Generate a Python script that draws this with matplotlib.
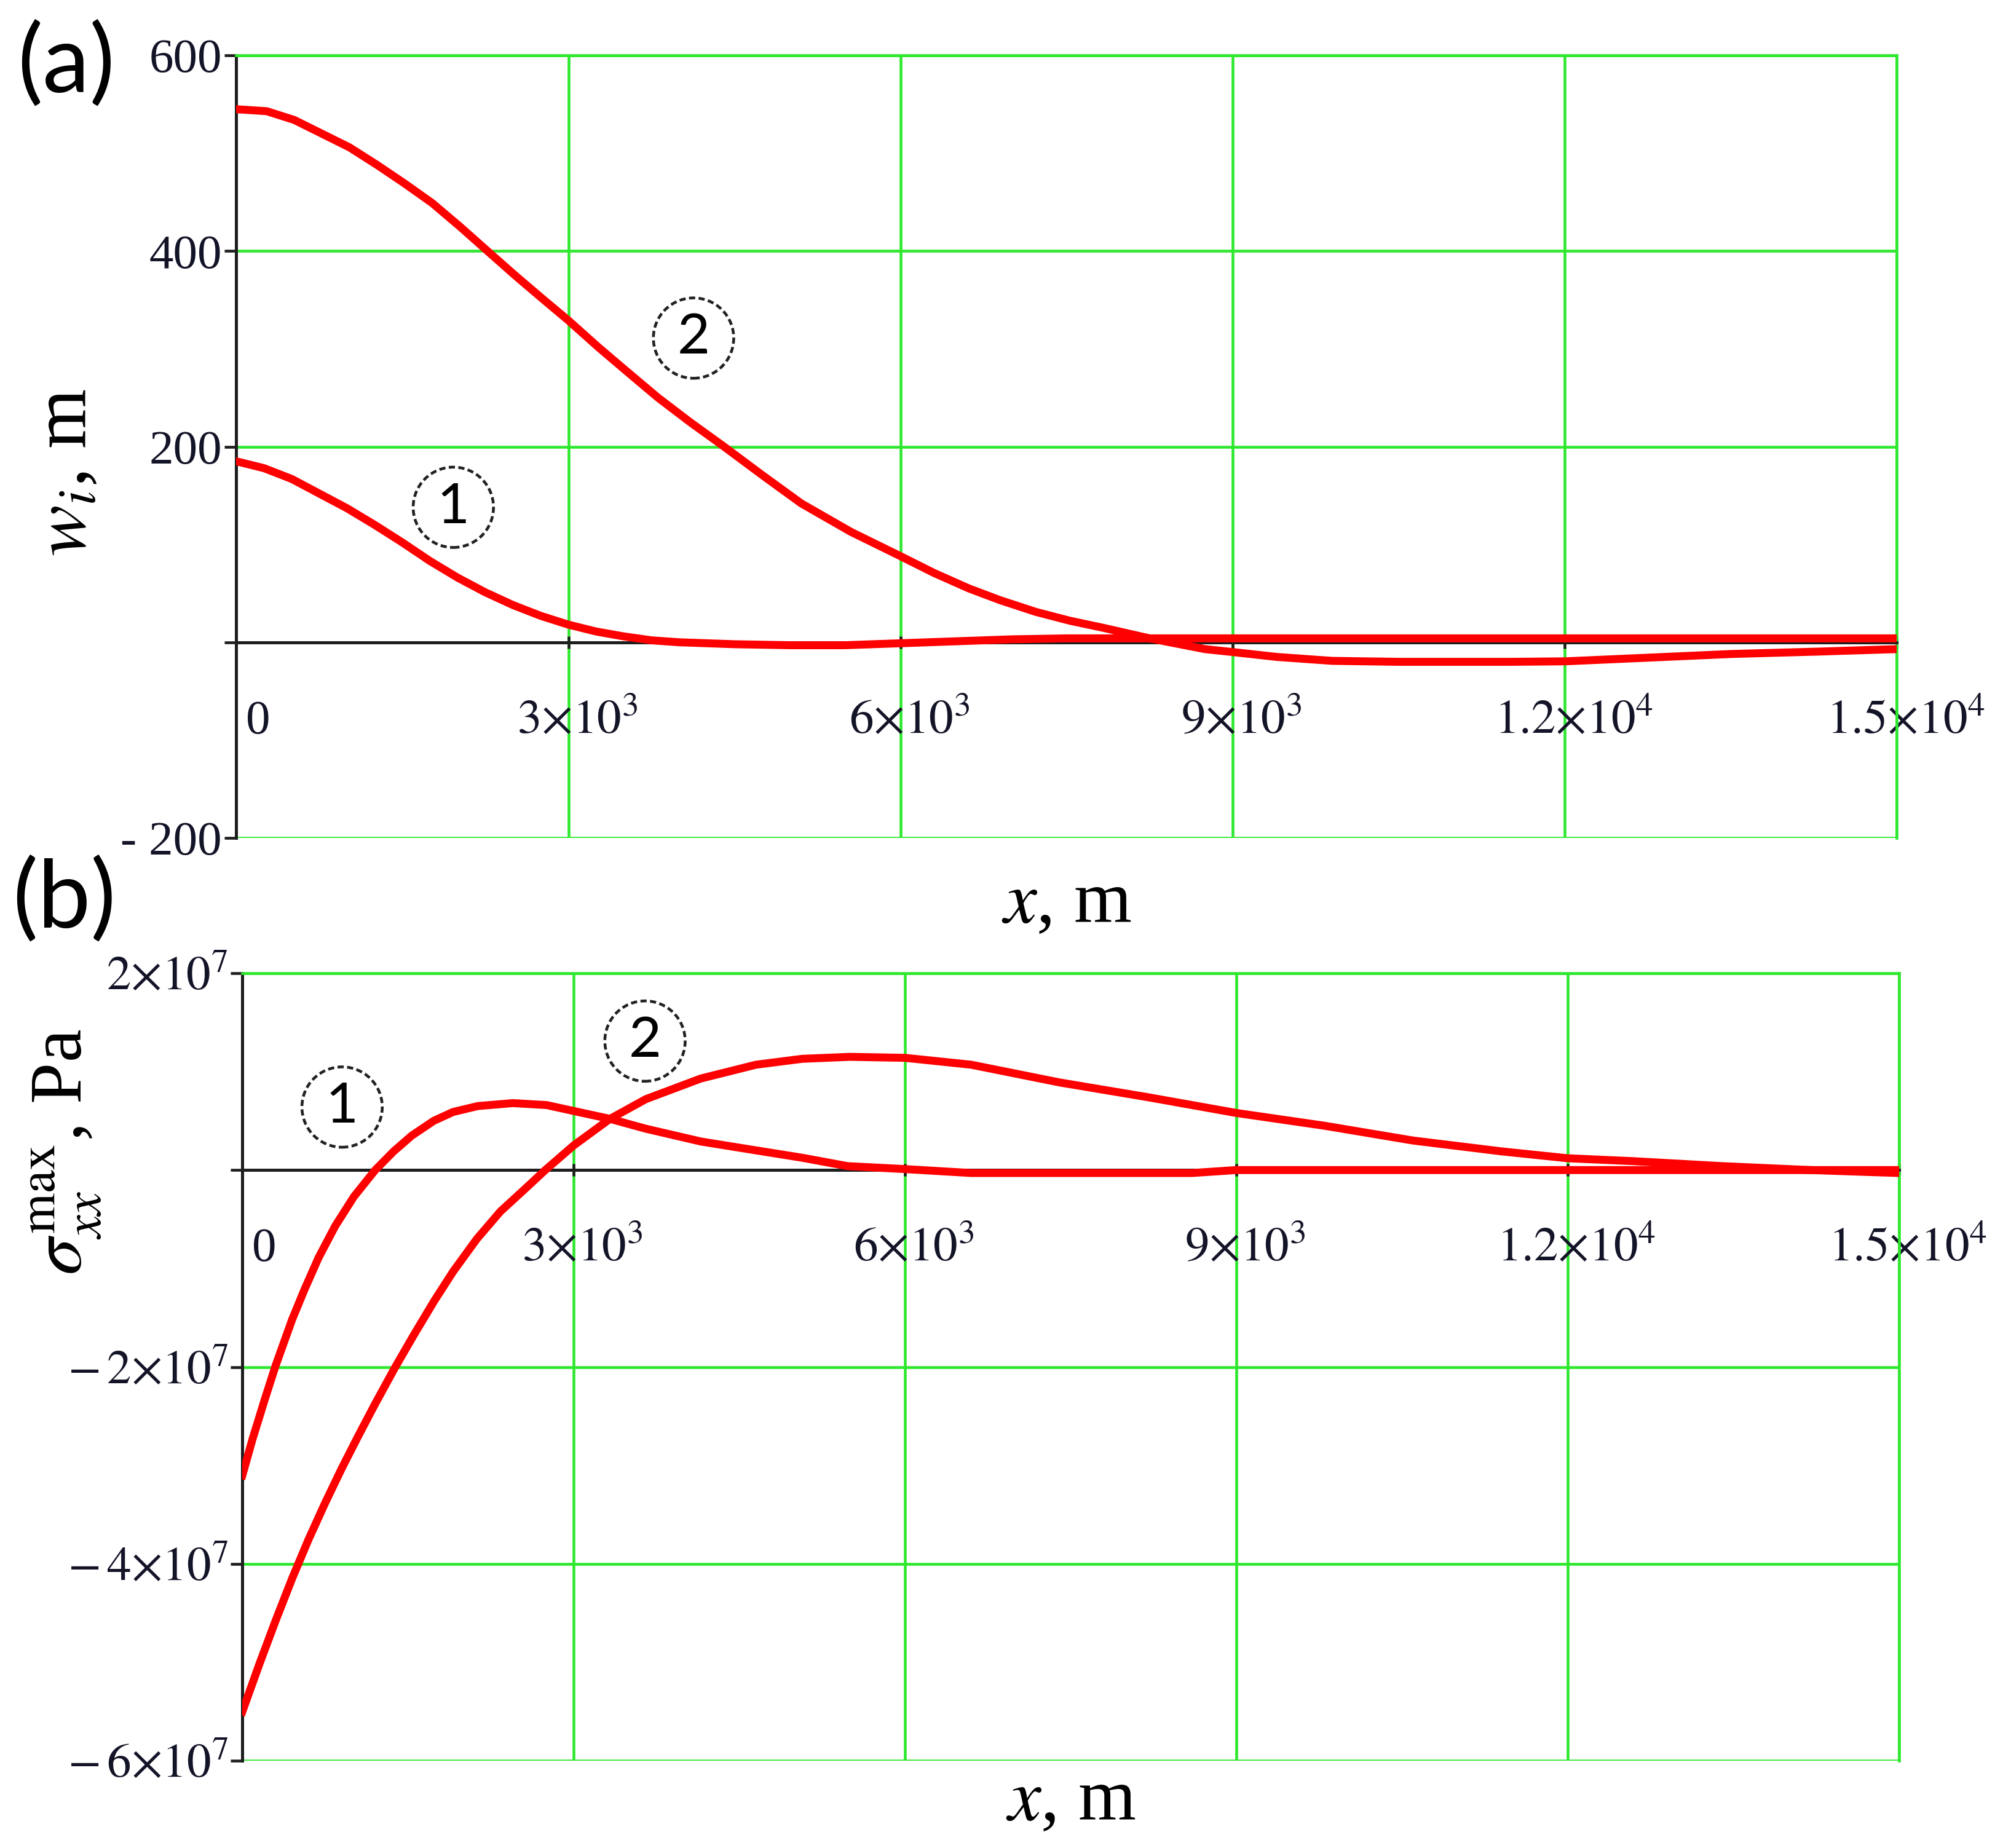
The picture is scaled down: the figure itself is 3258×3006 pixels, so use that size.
import matplotlib
matplotlib.use("Agg")
import numpy as np
import matplotlib.pyplot as plt
from matplotlib.transforms import ScaledTranslation

# Panel (a): deflection w_i (m) versus x (m)
x_w1 = [0, 250, 500, 750, 1000, 1250, 1500, 1750, 2000, 2250, 2500, 2750,
        3000, 3250, 3500, 3750, 4000, 4500, 5000, 5500, 6000, 6500, 7000,
        7500, 8000, 9000, 10500, 12000, 13500, 15000]
w1 = [185, 178, 167, 152, 137, 120, 102, 83, 66, 51, 38, 27,
      18, 11, 6, 2, 0, -2, -3, -3, -1, 1, 3,
      4, 4, 4, 4, 4, 4, 4]

x_w2 = [0, 274, 524, 773, 1022, 1272, 1521, 1770, 2020, 2269, 2519, 2768,
        3000, 3267, 3516, 3810, 4100, 4406, 4750, 5103, 5550, 6000, 6300,
        6618, 6900, 7224, 7530, 7822, 8250, 8750, 9000, 9400, 9900, 10500,
        11500, 12000, 12700, 13500, 14300, 15000]
w2 = [545, 543, 534, 520, 506, 488, 469, 449, 425, 400, 375, 351,
      329, 302, 278, 250, 225, 200, 171, 142, 113, 88, 71,
      55, 43, 31, 22, 15, 4, -7, -10, -15, -19, -20,
      -20, -19.5, -16, -12, -9.5, -7]

# Panel (b): max stress sigma_xx (in 1e6 Pa) versus x (m)
x_s1 = [0, 90, 200, 300, 450, 560, 690, 840, 1010, 1203, 1370, 1534, 1733,
        1908, 2132, 2450, 2756, 3000, 3329, 3653, 4152, 4651, 5070, 5480,
        6000, 6600, 8600, 9000, 15000]
s1 = [-31.0, -27.4, -23.4, -19.9, -15.2, -12.2, -8.9, -5.7, -2.7, 0.0, 1.9,
      3.5, 5.0, 5.9, 6.5, 6.8, 6.6, 6.0, 5.2, 4.2, 2.9, 2.0, 1.25, 0.4,
      0.1, -0.3, -0.3, 0.0, 0.0]

x_s2 = [0, 150, 300, 450, 600, 750, 900, 1050, 1200, 1375, 1550, 1737, 1909,
        2123, 2337, 2551, 2743, 3000, 3329, 3653, 4152, 4651, 5070, 5500,
        6000, 6600, 7400, 8200, 9000, 9800, 10600, 11400, 12000, 12600,
        13400, 14200, 15000]
s2 = [-55.0, -50.3, -45.8, -41.5, -37.5, -33.8, -30.3, -27.0, -23.8, -20.2,
      -16.8, -13.3, -10.3, -7.0, -4.2, -2.0, 0.0, 2.5, 5.2, 7.2, 9.3, 10.7,
      11.3, 11.5, 11.4, 10.7, 8.9, 7.4, 5.8, 4.5, 3.0, 1.9, 1.2, 0.9, 0.4,
      0.0, -0.3]

# Ticks and labels
x_ticks = [0, 3000, 6000, 9000, 12000, 15000]
x_ticklabels = ["0", r"$3{\times}10^{3}$", r"$6{\times}10^{3}$",
                r"$9{\times}10^{3}$", r"$1.2{\times}10^{4}$",
                r"$1.5{\times}10^{4}$"]
w_ticks = [-200, 0, 200, 400, 600]
w_ticklabels = ["- 200", "", "200", "400", "600"]
s_ticks = [-6e7, -4e7, -2e7, 0, 2e7]
s_ticklabels = [r"$-\,6{\times}10^{7}$", r"$-\,4{\times}10^{7}$",
                r"$-\,2{\times}10^{7}$", "", r"$2{\times}10^{7}$"]

# curve tags (circled numbers), data coordinates
tags_a = [("1", 1960, 138), ("2", 4130, 311)]
tags_b = [("1", 903, 6.4e6), ("2", 3646, 13.1e6)]

GREEN = "#2ee82e"
RED = "#ff0000"
AXIS = "#1e1e1e"

plt.rcParams["font.family"] = "Liberation Serif"
plt.rcParams["mathtext.fontset"] = "stix"


def style_axes(ax, fig, yticks, ylabels, ylim):
    ax.set_xlim(0, 15000)
    ax.set_ylim(*ylim)
    ax.set_xticks(x_ticks)
    ax.set_xticklabels(x_ticklabels)
    ax.set_yticks(yticks)
    ax.set_yticklabels(ylabels)
    ax.grid(True, color=GREEN, lw=1.1)
    ax.set_axisbelow(True)

    ax.spines["bottom"].set_position(("data", 0))
    for side in ["bottom", "left"]:
        ax.spines[side].set_color(AXIS)
        ax.spines[side].set_linewidth(1.2)
        ax.spines[side].set_zorder(2.5)
    for side in ["top", "right"]:
        ax.spines[side].set_color(GREEN)
        ax.spines[side].set_linewidth(1.1)

    ax.tick_params(axis="x", direction="inout", length=5, width=1.1,
                   color=AXIS, labelsize=19, pad=33, labelcolor="#141428")
    ax.tick_params(axis="y", direction="out", length=4.6, width=1.1,
                   color=AXIS, labelsize=19, pad=1, labelcolor="#141428")

    # move x labels so they sit like the original (baseline, slight offset)
    for i, lab in enumerate(ax.get_xticklabels()):
        dx = 8.5 if i == 0 else 3.5
        lab.set_va("baseline")
        lab.set_transform(lab.get_transform() +
                          ScaledTranslation(dx / 72, 0, fig.dpi_scale_trans))


def add_tags(ax, tags):
    for txt, tx, ty in tags:
        ax.text(tx, ty, txt, fontsize=22, family="Lato", ha="center",
                va="center", zorder=5,
                bbox=dict(boxstyle="circle,pad=0.26", fc="white",
                          ec="#222222", lw=1.1, ls=(0, (2.2, 1.2))))


fig = plt.figure(figsize=(3258 / 300, 3006 / 300), dpi=300)

# (a) deflection
ax1 = fig.add_axes([0.118, 0.5466, 0.829, 0.4234])
ax1.plot(x_w1, w1, color=RED, lw=3.1, zorder=3)
ax1.plot(x_w2, w2, color=RED, lw=3.1, zorder=3)
style_axes(ax1, fig, w_ticks, w_ticklabels, (-200, 600))
add_tags(ax1, tags_a)
ax1.set_xlabel(r"$x$, m", fontsize=29)
ax1.xaxis.set_label_coords(0.5, -0.085)
ax1.xaxis.label.set_va("center")
ax1.set_ylabel(r"$w_{i}$, m", fontsize=30)
ax1.yaxis.set_label_coords(-0.102, 0.467)
ax1.yaxis.label.set(va="center", ha="center", rotation_mode="default")

# (b) stress
ax2 = fig.add_axes([0.121, 0.0472, 0.827, 0.4262])
ax2.plot(x_s1, np.array(s1) * 1e6, color=RED, lw=3.1, zorder=3)
ax2.plot(x_s2, np.array(s2) * 1e6, color=RED, lw=3.1, zorder=3)
style_axes(ax2, fig, s_ticks, s_ticklabels, (-6e7, 2e7))
add_tags(ax2, tags_b)
ax2.set_xlabel(r"$x$, m", fontsize=29)
ax2.xaxis.set_label_coords(0.5, -0.052)
ax2.xaxis.label.set_va("center")
ax2.set_ylabel(r"$\sigma_{xx}^{\mathrm{max}}$, Pa", fontsize=29)
ax2.yaxis.set_label_coords(-0.1065, 0.773)
ax2.yaxis.label.set(va="center", ha="center", rotation_mode="default")

# panel letters
fig.text(0.033, 0.965, "(a)", family="Lato", fontsize=37, ha="center",
         va="center")
fig.text(0.032, 0.513, "(b)", family="Lato", fontsize=37, ha="center",
         va="center")

fig.savefig("out.png", dpi=300)
